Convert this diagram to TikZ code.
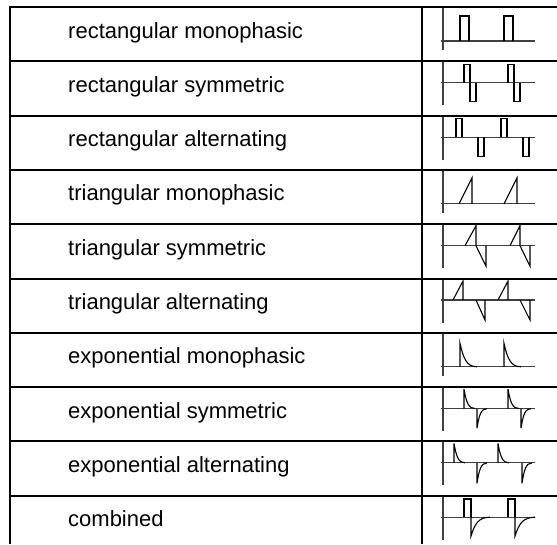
\documentclass[tikz,border=0pt]{standalone}
\usepackage{fontspec}
\setmainfont{Liberation Sans}
\usepackage{tikz}
\usetikzlibrary{positioning}

\tikzset{
  grid/.style={line width=2pt, black},
  axis/.style={line width=1.1pt, black!75},
  wave/.style={line width=1.1pt, black, line join=miter},
  label/.style={anchor=base west, inner sep=0pt, font=\fontsize{22}{26}\selectfont}
}

% exponential spike: start x, axis y, peak y, end x
\newcommand{\expspike}[4]{%
  \draw[wave] (#1,#2) -- (#1,#3) .. controls (#1+0.2*#4-0.2*#1,#2+0.35*#3-0.35*#2) and (#1+0.4*#4-0.4*#1,#2) .. (#4,#2);}

\begin{document}
\begin{tikzpicture}[x=1pt,y=-1pt]
\useasboundingbox (0,0) rectangle (557,544);

% table lines
\foreach \r in {0,...,9}
  \draw[grid] (9,{7+54.3*\r}) -- (557,{7+54.3*\r});
\draw[grid] (10,6) -- (10,544);
\draw[grid] (422,6) -- (422,544);

% labels
\foreach \txt [count=\i from 0] in {rectangular monophasic, rectangular symmetric,
    rectangular alternating, triangular monophasic, triangular symmetric,
    triangular alternating, exponential monophasic, exponential symmetric,
    exponential alternating, combined}
  \node[label] (lbl\i) at (68,{7+54.3*\i+31}) {\txt};

% rectangular monophasic
\begin{scope}[shift={(0,7)}]
\draw[axis] (443,1) -- (443,43);
\draw[axis] (441,34) -- (535,34);
\draw[wave] (460,34) -- (460,9) -- (469,9) -- (469,34);
\draw[wave] (504,34) -- (504,9) -- (513,9) -- (513,34);
\end{scope}

% rectangular symmetric
\begin{scope}[shift={(0,61.3)}]
\draw[axis] (443,1) -- (443,44);
\draw[axis] (441,21.5) -- (535,21.5);
\draw[wave] (464,21.5) -- (464,3) -- (470,3) -- (470,40.5) -- (476,40.5) -- (476,21.5);
\draw[wave] (508,21.5) -- (508,3) -- (514,3) -- (514,40.5) -- (520,40.5) -- (520,21.5);
\end{scope}

% rectangular alternating
\begin{scope}[shift={(0,115.6)}]
\draw[axis] (443,1) -- (443,44);
\draw[axis] (441,21.5) -- (535,21.5);
\draw[wave] (456,21.5) -- (456,3) -- (462,3) -- (462,21.5);
\draw[wave] (478,21.5) -- (478,40.5) -- (484,40.5) -- (484,21.5);
\draw[wave] (501,21.5) -- (501,3) -- (507,3) -- (507,21.5);
\draw[wave] (523,21.5) -- (523,40.5) -- (529,40.5) -- (529,21.5);
\end{scope}

% triangular monophasic
\begin{scope}[shift={(0,169.9)}]
\draw[axis] (443,1) -- (443,43);
\draw[axis] (441,34) -- (535,34);
\draw[wave] (459,34) -- (472,8) -- (472,34);
\draw[wave] (504,34) -- (517,8) -- (517,34);
\end{scope}

% triangular symmetric
\begin{scope}[shift={(0,224.2)}]
\draw[axis] (443,1) -- (443,44);
\draw[axis] (441,21.5) -- (535,21.5);
\draw[wave] (465,21.5) -- (476,1.5) -- (476,21.5) -- (486,42) -- (486,21.5);
\draw[wave] (510,21.5) -- (520,1.5) -- (520,21.5) -- (530,42) -- (530,21.5);
\end{scope}

% triangular alternating
\begin{scope}[shift={(0,278.5)}]
\draw[axis] (443,1) -- (443,44);
\draw[axis] (441,21.5) -- (535,21.5);
\draw[wave] (453,21.5) -- (463,2.5) -- (463,21.5);
\draw[wave] (476,21.5) -- (485,41.5) -- (485,21.5);
\draw[wave] (498,21.5) -- (508,2.5) -- (508,21.5);
\draw[wave] (520,21.5) -- (530,41.5) -- (530,21.5);
\end{scope}

% exponential monophasic
\begin{scope}[shift={(0,332.8)}]
\draw[axis] (443,1) -- (443,43);
\draw[axis] (441,34) -- (535,34);
\expspike{460}{34}{10.5}{477}
\expspike{504}{34}{10.5}{521}
\end{scope}

% exponential symmetric
\begin{scope}[shift={(0,387.1)}]
\draw[axis] (443,1) -- (443,44);
\draw[axis] (441,21.5) -- (535,21.5);
\expspike{464}{21.5}{2}{475}
\expspike{477}{21.5}{41}{487}
\expspike{508}{21.5}{2}{519}
\expspike{521}{21.5}{41}{531}
\end{scope}

% exponential alternating
\begin{scope}[shift={(0,441.4)}]
\draw[axis] (443,1) -- (443,44);
\draw[axis] (441,21.5) -- (535,21.5);
\expspike{454}{21.5}{2}{465}
\expspike{477}{21.5}{42}{487}
\expspike{498}{21.5}{2}{509}
\expspike{522}{21.5}{42}{532}
\end{scope}

% combined
\begin{scope}[shift={(0,495.7)}]
\draw[axis] (443,1) -- (443,44);
\draw[axis] (441,21.5) -- (535,21.5);
\draw[wave] (464,21.5) -- (464,3.3) -- (471,3.3) -- (471,21.5);
\expspike{471}{21.5}{40.3}{490}
\draw[wave] (508,21.5) -- (508,3.3) -- (515,3.3) -- (515,21.5);
\expspike{515}{21.5}{40.3}{535}
\end{scope}
\end{tikzpicture}
\end{document}
